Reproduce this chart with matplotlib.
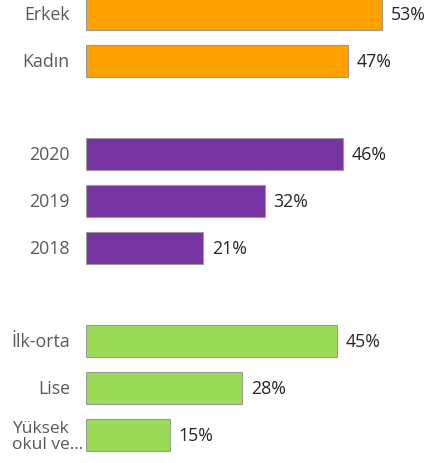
import matplotlib.pyplot as plt
import matplotlib.transforms as mtransforms

# gruplar: cinsiyet, yıl, eğitim
cinsiyet = ['Erkek', 'Kadın']
cinsiyet_deger = [53, 47]
yillar = ['2020', '2019', '2018']
yil_deger = [46, 32, 21]
egitim = ['İlk-orta', 'Lise', 'Yüksek\nokul ve...']
egitim_deger = [45, 28, 15]

renkler = ['#FFA100', '#7634A3', '#9CDB58']

plt.rcParams['font.family'] = ['Open Sans', 'DejaVu Sans']

fig = plt.figure(figsize=(4.29, 4.64), dpi=100)
ax = fig.add_axes([86 / 429, 0, 1 - 86 / 429, 1])

gruplar = [(cinsiyet, cinsiyet_deger), (yillar, yil_deger), (egitim, egitim_deger)]
y = 0
trans = mtransforms.blended_transform_factory(ax.transAxes, ax.transData)
for (etiketler, degerler), renk in zip(gruplar, renkler):
    for etiket, deger in zip(etiketler, degerler):
        ax.barh(y, deger, height=0.68, color=renk, edgecolor='#9a9a9a', linewidth=0.8)
        ax.text(deger + 1.5, y, f'{deger}%', va='center', ha='left',
                fontsize=12.8, color='#262626')
        if '\n' in etiket:
            ax.text(-0.008, y + 0.02, etiket, transform=trans, va='center', ha='right',
                    multialignment='left', fontsize=12.5, color='#595959', linespacing=1.0)
        else:
            ax.text(-0.047, y, etiket, transform=trans, va='center', ha='right',
                    fontsize=12.8, color='#595959')
        y += 1
    y += 1

ax.set_xlim(0, 343 / 5.585)
ax.set_ylim(9.6, -0.32)
ax.axis('off')

fig.savefig('out.png', dpi=100)
